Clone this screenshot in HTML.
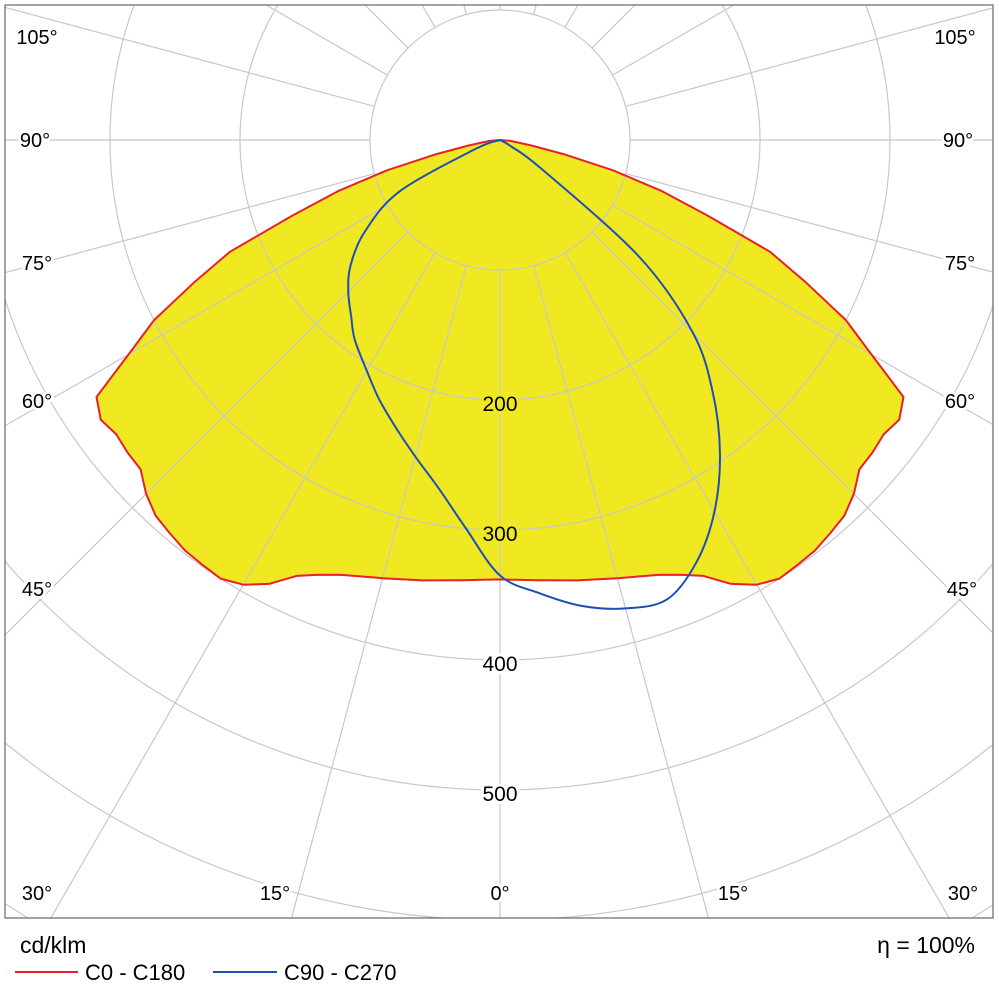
<!DOCTYPE html>
<html><head><meta charset="utf-8"><style>
html,body{margin:0;padding:0;background:#fff;width:999px;height:992px;overflow:hidden;}
svg{display:block;font-family:"Liberation Sans","DejaVu Sans",sans-serif;}
</style></head><body>
<svg id="chart" width="999" height="992" viewBox="0 0 999 992">
<defs><clipPath id="plotclip"><rect x="5" y="5" width="988" height="913"/></clipPath></defs>
<rect x="0" y="0" width="999" height="992" fill="#fff"/>
<g id="plot" clip-path="url(#plotclip)"></g>
<rect x="5" y="5" width="988" height="913" fill="none" stroke="#666" stroke-width="1.2"/>
<g id="labels"></g>
<text x="20" y="953" font-size="23" fill="#000">cd/klm</text>
<text x="975" y="953" font-size="23" fill="#000" text-anchor="end">η = 100%</text>
<line x1="15" y1="972" x2="78" y2="972" stroke="#e8202a" stroke-width="2"/>
<text x="85" y="980" font-size="22">C0 - C180</text>
<line x1="213" y1="972" x2="277" y2="972" stroke="#1f4fb5" stroke-width="2"/>
<text x="284" y="980" font-size="22">C90 - C270</text>
</svg>
<script>
// Data
const redAngles = [0,5,10,15,20,22.5,25,27.5,30,32.5,35,37.5,40,42.5,45,47.5,50,52.5,55,57.5,60,62.5,65,67.5,70,72.5,75,77.5,80,85,90];
const redValues = [338,340,344,349,356,362,370,385,395,400,399,398,395,392,385,375,374,372,375,368,330,300,260,225,170,130,90,50,25,8,0];
const blueAngles = [-90,-70,-63,-56,-50,-45,-40,-36,-30,-25,-20,-15,-10,-5,0,5,10,15,20,25,30,35,40,45,50,55,60,90];
const blueValues = [0,20,86,125,150,165,178,190,205,220,235,252,272,300,335,350,364,373,376,358,330,295,255,210,140,40,10,0];
const radialTicks = [100,200,300,400,500,600,700,800];
const valueLabels = ["200","300","400","500"];
const valueLabelRadii = [200,300,400,500];

const NS="http://www.w3.org/2000/svg";
const cx=500, cy=140, k=1.3;
function rScale(v){return v*k;}
function pt(angDeg,v){const a=angDeg*Math.PI/180;const r=rScale(v);return [cx+r*Math.sin(a), cy+r*Math.cos(a)];}
function mk(tag,attrs,parent){const e=document.createElementNS(NS,tag);for(const k2 in attrs)e.setAttribute(k2,attrs[k2]);parent.appendChild(e);return e;}
const plot=document.getElementById('plot');

let rp=[];
for(let i=0;i<redAngles.length;i++){rp.push(pt(-redAngles[i],redValues[i]));}
for(let i=redAngles.length-1;i>=0;i--){rp.push(pt(redAngles[i],redValues[i]));}
const redD="M"+rp.map(p=>p[0].toFixed(1)+","+p[1].toFixed(1)).join("L")+"Z";
const fill=mk('path',{d:redD,fill:'#f0e922',stroke:'none'},plot);



const gg=mk('g',{fill:'none',stroke:'#c8c8c8','stroke-width':1.2},plot);


radialTicks.forEach(v=>{const c=mk('circle',{cx:cx,cy:cy,r:rScale(v)},gg);

});
for(let a=0;a<360;a+=15){const p1=pt(a,100),p2=pt(a,1200);
const l=mk('line',{x1:p1[0],y1:p1[1],x2:p2[0],y2:p2[1]},gg);

}

const ro=mk('path',{d:redD,fill:'none',stroke:'#e8202a','stroke-width':2,'stroke-linejoin':'round'},plot);



const bp=blueAngles.map((a,i)=>pt(a,blueValues[i]));
function smooth(ps){let d="M"+ps[0][0]+","+ps[0][1];
for(let i=0;i<ps.length-1;i++){const p0=ps[Math.max(i-1,0)],p1=ps[i],p2=ps[i+1],p3=ps[Math.min(i+2,ps.length-1)];
d+="C"+(p1[0]+(p2[0]-p0[0])/6).toFixed(1)+","+(p1[1]+(p2[1]-p0[1])/6).toFixed(1)+" "+(p2[0]-(p3[0]-p1[0])/6).toFixed(1)+","+(p2[1]-(p3[1]-p1[1])/6).toFixed(1)+" "+p2[0].toFixed(1)+","+p2[1].toFixed(1);}
return d;}
const bl=mk('path',{d:smooth(bp),fill:'none',stroke:'#1f4fb5','stroke-width':2},plot);



const lab=document.getElementById('labels');
valueLabels.forEach((t,i)=>{const y=cy+rScale(valueLabelRadii[i])+11;
const bg = valueLabelRadii[i]<=300 ? '#f0e922' : '#fff';
const tx=mk('text',{x:cx,y:y,'font-size':21,'text-anchor':'middle',stroke:bg,'stroke-width':6,'paint-order':'stroke'},lab);
tx.textContent=t;

});

const angleLabels=[["105°",37,44],["105°",955,44],["90°",35,147],["90°",958,147],["75°",37,270],["75°",960,270],["60°",37,408],["60°",960,408],["45°",37,596],["45°",962,596],["30°",37,900],["15°",275,900],["0°",500,900],["15°",733,900],["30°",963,900]];
angleLabels.forEach(a=>{const tx=mk('text',{x:a[1],y:a[2],'font-size':20,'text-anchor':'middle',stroke:'#fff','stroke-width':6,'paint-order':'stroke'},lab);
tx.textContent=a[0];

});
</script>
</body></html>
